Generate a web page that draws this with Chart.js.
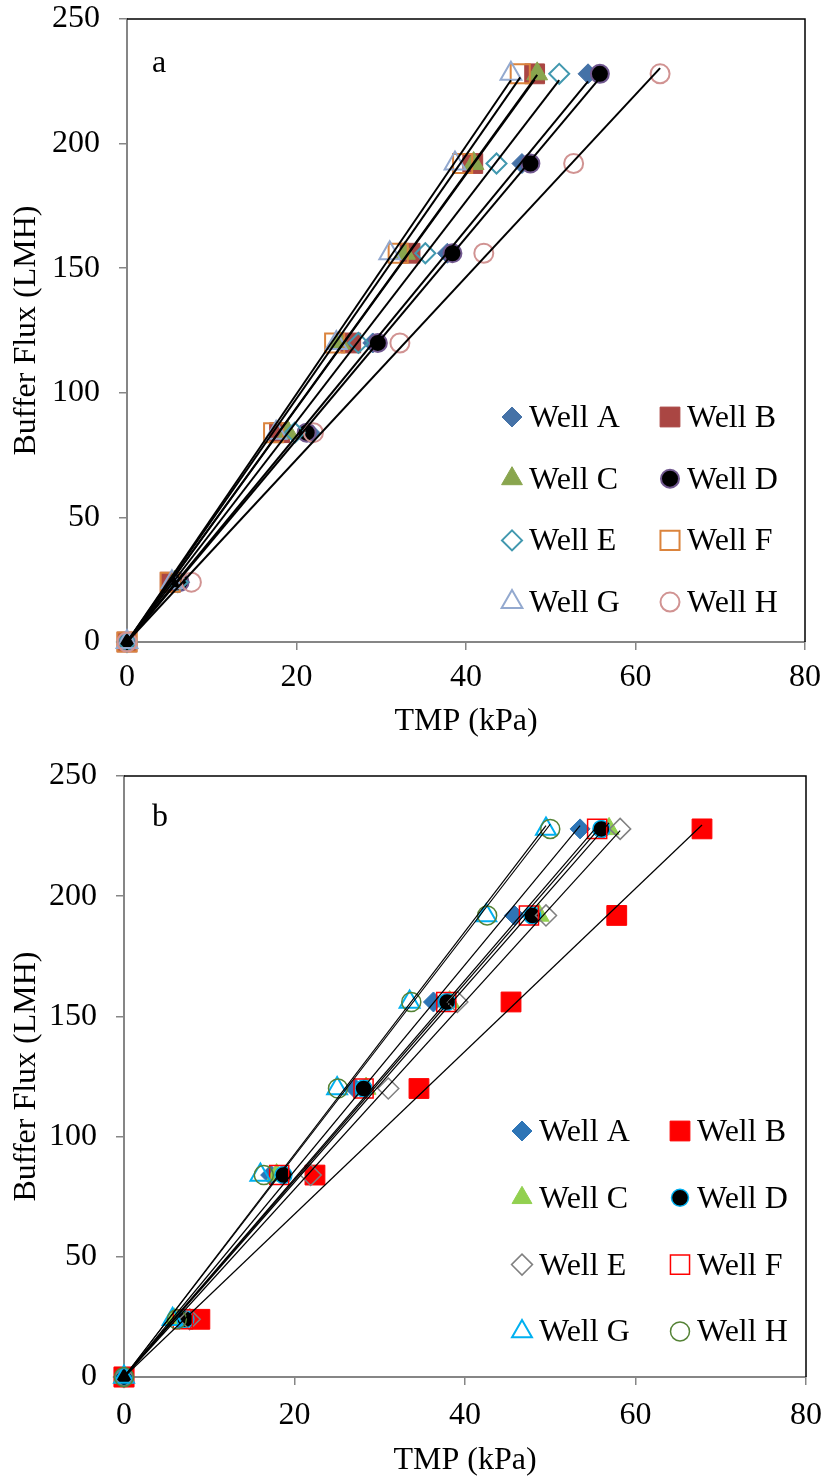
<!DOCTYPE html>
<html>
<head>
<meta charset="utf-8">
<script src="https://cdn.jsdelivr.net/npm/chart.js@4.4.1/dist/chart.umd.min.js"></script>
<style>
  html, body { margin: 0; padding: 0; background: #ffffff; }
  #wrap { position: relative; width: 823px; height: 1477px; overflow: hidden; }
  canvas { position: absolute; left: 0; }
  #chartA { top: 0; }
  #chartB { top: 738px; }
</style>
</head>
<body>
<div id="wrap">
  <canvas id="chartA" width="823" height="738"></canvas>
  <canvas id="chartB" width="823" height="739"></canvas>
</div>
<script>
// ---- data -------------------------------------------------------------
const wells = ['Well A', 'Well B', 'Well C', 'Well D', 'Well E', 'Well F', 'Well G', 'Well H'];
const flux = [0, 24, 84, 120, 156, 192, 228];          // buffer flux, LMH

// panel a: TMP (kPa) at each flux step
const tmpA_wellA = [0, 6.2, 21.6, 29.0, 37.8, 46.6, 54.4];
const tmpA_wellB = [0, 5.1, 18.0, 26.4, 33.4, 40.8, 48.1];
const tmpA_wellC = [0, 5.6, 19.0, 25.1, 32.8, 40.9, 48.4];
const tmpA_wellD = [0, 6.2, 21.2, 29.6, 38.4, 47.6, 55.8];
const tmpA_wellE = [0, 6.0, 19.8, 27.3, 35.2, 43.6, 51.0];
const tmpA_wellF = [0, 5.1, 17.3, 24.5, 32.0, 39.6, 46.4];
const tmpA_wellG = [0, 5.3, 17.6, 24.7, 31.0, 38.7, 45.3];
const tmpA_wellH = [0, 7.6, 22.0, 32.2, 42.1, 52.7, 62.9];

// panel b: TMP (kPa) at each flux step
const tmpB_wellA = [0, 6.5, 17.2, 27.1, 36.3, 45.8, 53.5];
const tmpB_wellB = [0, 8.9, 22.4, 34.6, 45.4, 57.8, 67.8];
const tmpB_wellC = [0, 5.9, 17.9, 28.4, 38.2, 48.7, 56.9];
const tmpB_wellD = [0, 7.2, 18.7, 28.1, 37.9, 47.9, 56.0];
const tmpB_wellE = [0, 7.7, 21.9, 31.0, 39.1, 49.5, 58.2];
const tmpB_wellF = [0, 6.9, 18.2, 28.1, 37.8, 47.5, 55.5];
const tmpB_wellG = [0, 5.7, 16.0, 25.0, 33.5, 42.5, 49.5];
const tmpB_wellH = [0, 6.2, 16.4, 25.1, 33.7, 42.6, 50.0];

const xTicks = [0, 20, 40, 60, 80];
const yTicks = [0, 50, 100, 150, 200, 250];

// ---- styles -------------------------------------------------------------
const NONE = 'rgba(0,0,0,0)';
const stylesA = [
  { shape: 'rectRot',  r: 10,   fill: '#4572A7', stroke: '#4572A7', bw: 1 },
  { shape: 'rect',     r: 14,   fill: '#AA4643', stroke: '#AA4643', bw: 1 },
  { shape: 'triangle', r: 12,   fill: '#89A54E', stroke: '#89A54E', bw: 1 },
  { shape: 'circle',   r: 9,    fill: '#000000', stroke: '#71588F', bw: 2 },
  { shape: 'rectRot',  r: 10,   fill: NONE,      stroke: '#4198AF', bw: 2 },
  { shape: 'rect',     r: 13.5, fill: NONE,      stroke: '#DB843D', bw: 2 },
  { shape: 'triangle', r: 12,   fill: NONE,      stroke: '#93A9CF', bw: 2 },
  { shape: 'circle',   r: 9.5,  fill: NONE,      stroke: '#D19392', bw: 2 }
];
const stylesB = [
  { shape: 'rectRot',  r: 10,   fill: '#2E75B6', stroke: '#2E75B6', bw: 1 },
  { shape: 'rect',     r: 14,   fill: '#FF0000', stroke: '#FF0000', bw: 1 },
  { shape: 'triangle', r: 11.5, fill: '#92D050', stroke: '#92D050', bw: 1 },
  { shape: 'circle',   r: 8.5,  fill: '#000000', stroke: '#00B0F0', bw: 1.5 },
  { shape: 'rectRot',  r: 10.5, fill: NONE,      stroke: '#808080', bw: 1.5 },
  { shape: 'rect',     r: 13.5, fill: NONE,      stroke: '#FF0000', bw: 1.5 },
  { shape: 'triangle', r: 11.5, fill: NONE,      stroke: '#00B0F0', bw: 2 },
  { shape: 'circle',   r: 9.5,  fill: NONE,      stroke: '#548235', bw: 1.5 }
];

const FONT = "'Liberation Serif', 'Times New Roman', serif";
Chart.defaults.font.family = FONT;
Chart.defaults.font.size = 32;
Chart.defaults.color = '#000000';

// ---- datasets: markers plus a zero-intercept linear fit per well ----------
function buildDatasets(series, styles, fitWidth) {
  const markers = series.map((xs, i) => ({
    label: wells[i],
    data: xs.map((x, j) => ({ x: x, y: flux[j] })),
    showLine: false,
    pointStyle: styles[i].shape,
    pointRadius: styles[i].r,
    pointHoverRadius: styles[i].r,
    pointBackgroundColor: styles[i].fill,
    pointBorderColor: styles[i].stroke,
    pointBorderWidth: styles[i].bw,
    order: 10 - i,
    clip: false
  }));
  const fits = series.map((xs, i) => {
    let sxy = 0, sxx = 0;
    xs.forEach((x, j) => { sxy += x * flux[j]; sxx += x * x; });
    const k = sxy / sxx;
    const xEnd = Math.max(...xs);
    return {
      label: wells[i] + ' fit',
      data: [{ x: 0, y: 0 }, { x: xEnd, y: k * xEnd }],
      showLine: true,
      fill: false,
      tension: 0,
      borderColor: '#000000',
      borderWidth: fitWidth,
      pointRadius: 0,
      pointHoverRadius: 0,
      order: 0,
      clip: false
    };
  });
  return markers.concat(fits);
}

// ---- marker drawing for the legend ---------------------------------------
function drawMarker(ctx, st, x, y) {
  ctx.save();
  ctx.fillStyle = st.fill;
  ctx.strokeStyle = st.stroke;
  ctx.lineWidth = st.bw;
  if (Chart.helpers && Chart.helpers.drawPoint) {
    Chart.helpers.drawPoint(ctx, { pointStyle: st.shape, radius: st.r, borderWidth: st.bw, rotation: 0 }, x, y);
  } else {
    const r = st.r;
    ctx.beginPath();
    if (st.shape === 'circle') ctx.arc(x, y, r, 0, Math.PI * 2);
    else if (st.shape === 'rect') { const s = r * Math.SQRT1_2; ctx.rect(x - s, y - s, 2 * s, 2 * s); }
    else if (st.shape === 'rectRot') { ctx.moveTo(x, y - r); ctx.lineTo(x + r, y); ctx.lineTo(x, y + r); ctx.lineTo(x - r, y); ctx.closePath(); }
    else { ctx.moveTo(x, y - r); ctx.lineTo(x + r * 0.866, y + r / 2); ctx.lineTo(x - r * 0.866, y + r / 2); ctx.closePath(); }
    ctx.fill();
    ctx.stroke();
  }
  ctx.restore();
}

// frame (top/right), panel letter and two-column legend inside the plot area
function panelDecor(letter, letterPos, styles, legend) {
  return {
    id: 'panelDecor',
    beforeDatasetsDraw(chart) {
      const { ctx, chartArea: a } = chart;
      ctx.save();
      ctx.strokeStyle = '#000000';
      ctx.lineWidth = 1.5;
      ctx.beginPath();
      ctx.moveTo(a.left, a.top);
      ctx.lineTo(a.right, a.top);
      ctx.lineTo(a.right, a.bottom);
      ctx.stroke();
      ctx.restore();
    },
    afterDraw(chart) {
      const { ctx, chartArea: a } = chart;
      ctx.save();
      ctx.fillStyle = '#000000';
      ctx.font = '32px ' + FONT;
      ctx.textBaseline = 'alphabetic';
      ctx.textAlign = 'left';
      ctx.fillText(letter, a.left + letterPos.dx, a.top + letterPos.dy);
      wells.forEach((name, i) => {
        const col = i % 2, row = Math.floor(i / 2);
        const mx = a.left + legend.colX[col];
        const my = a.top + legend.rowY0 + row * legend.rowStep;
        drawMarker(ctx, styles[i], mx, my);
        ctx.fillStyle = '#000000';
        ctx.fillText(name, mx + legend.textGap, my + 10);
      });
      ctx.restore();
    }
  };
}

// axis boxes get a fixed size and no extra edge padding, so the layout
// padding alone decides where the plot area sits
function fixBox(prop, size) {
  return s => {
    s[prop] = size;
    s.paddingTop = 0; s.paddingBottom = 0; s.paddingLeft = 0; s.paddingRight = 0;
  };
}

function makeChart(canvasId, series, styles, cfg) {
  const axisGrey = '#868686';
  return new Chart(document.getElementById(canvasId), {
    type: 'scatter',
    data: { datasets: buildDatasets(series, styles, cfg.fitWidth) },
    options: {
      responsive: false,
      animation: false,
      devicePixelRatio: 1,
      events: [],
      layout: { padding: cfg.padding },
      plugins: { legend: { display: false }, tooltip: { enabled: false } },
      scales: {
        x: {
          type: 'linear',
          min: xTicks[0],
          max: xTicks[xTicks.length - 1],
          afterBuildTicks: s => { s.ticks = xTicks.map(v => ({ value: v })); },
          afterFit: fixBox('height', cfg.xAxisHeight),
          grid: { drawOnChartArea: false, drawTicks: true, tickLength: 8, color: axisGrey, lineWidth: 1.5 },
          border: { display: true, color: axisGrey, width: 2 },
          ticks: { padding: cfg.xTickPad, font: { size: 32, lineHeight: 1 }, color: '#000000', maxRotation: 0 },
          title: { display: true, text: 'TMP (kPa)', font: { size: 32, lineHeight: 1 }, padding: 0, color: '#000000' }
        },
        y: {
          type: 'linear',
          min: yTicks[0],
          max: yTicks[yTicks.length - 1],
          afterBuildTicks: s => { s.ticks = yTicks.map(v => ({ value: v })); },
          afterFit: fixBox('width', cfg.yAxisWidth),
          grid: { drawOnChartArea: false, drawTicks: true, tickLength: 8, color: axisGrey, lineWidth: 1.5 },
          border: { display: true, color: axisGrey, width: 2 },
          ticks: { padding: 19, font: { size: 32, lineHeight: 1 }, color: '#000000' },
          title: { display: true, text: 'Buffer Flux (LMH)', font: { size: 32, lineHeight: 1 }, padding: { top: 11, bottom: 0 }, color: '#000000' }
        }
      }
    },
    plugins: [panelDecor(cfg.letter, cfg.letterPos, styles, cfg.legend)]
  });
}

makeChart('chartA',
  [tmpA_wellA, tmpA_wellB, tmpA_wellC, tmpA_wellD, tmpA_wellE, tmpA_wellF, tmpA_wellG, tmpA_wellH],
  stylesA,
  {
    fitWidth: 2,
    padding: { top: 19, right: 18, bottom: 0, left: 0 },
    yAxisWidth: 127,
    xAxisHeight: 96,
    xTickPad: 12,
    letter: 'a',
    letterPos: { dx: 25, dy: 53 },
    legend: { colX: [385, 543], rowY0: 398, rowStep: 61.7, textGap: 17 }
  });

makeChart('chartB',
  [tmpB_wellA, tmpB_wellB, tmpB_wellC, tmpB_wellD, tmpB_wellE, tmpB_wellF, tmpB_wellG, tmpB_wellH],
  stylesB,
  {
    fitWidth: 1.2,
    padding: { top: 38, right: 17, bottom: 0, left: 0 },
    yAxisWidth: 124,
    xAxisHeight: 100,
    xTickPad: 15,
    letter: 'b',
    letterPos: { dx: 28, dy: 50 },
    legend: { colX: [398, 556], rowY0: 355, rowStep: 66.8, textGap: 17 }
  });
</script>
</body>
</html>
